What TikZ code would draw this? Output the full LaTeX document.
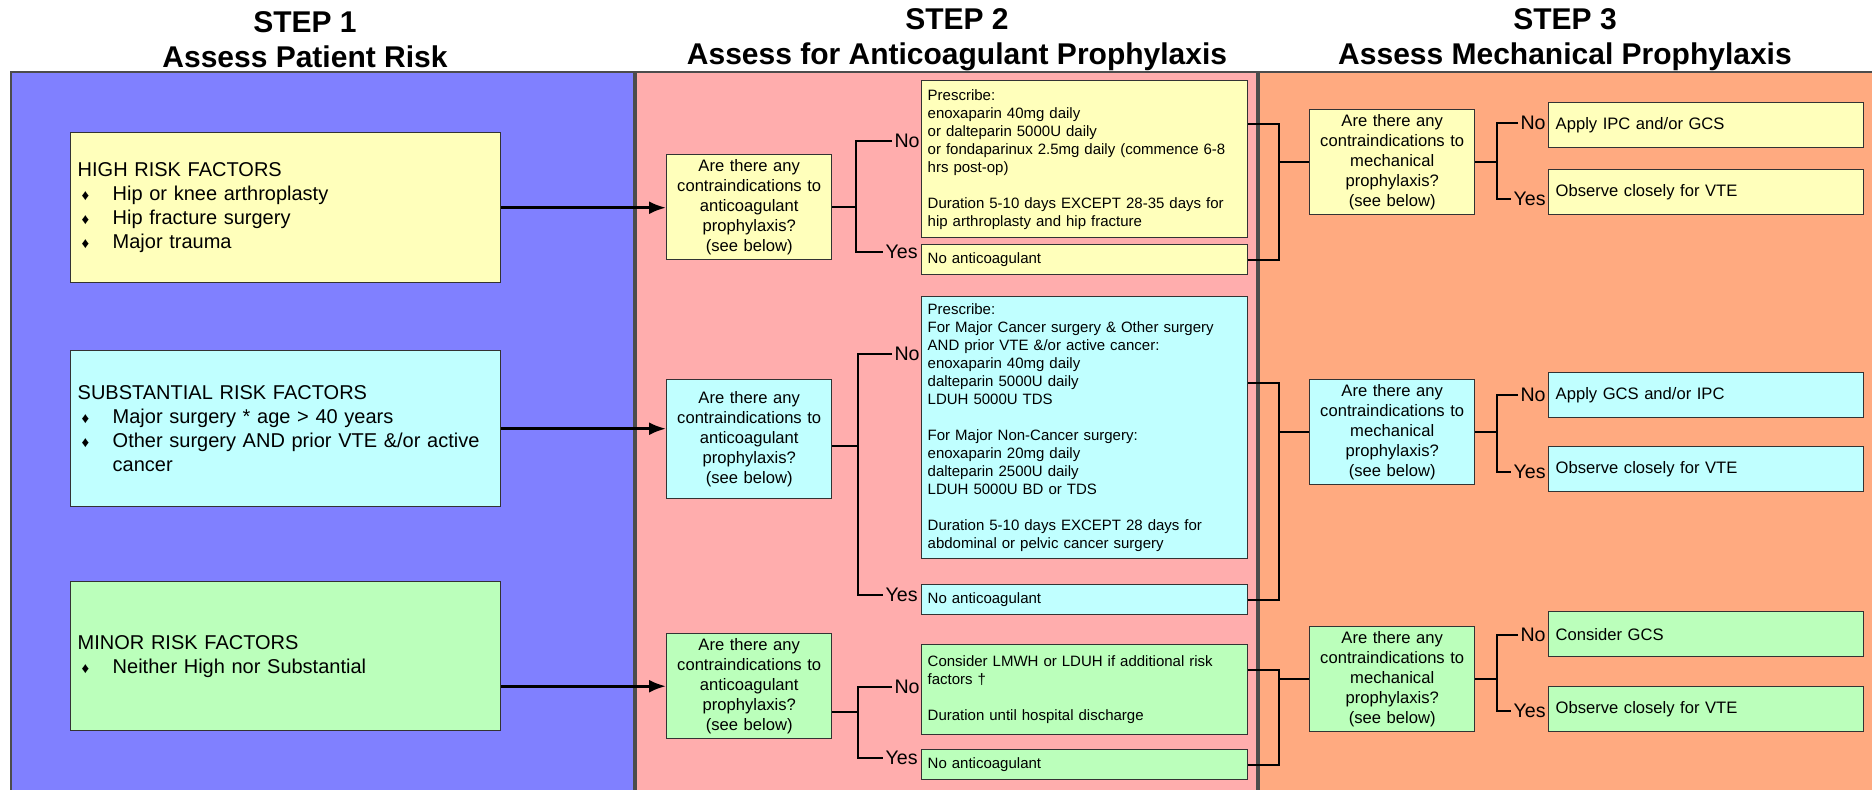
\documentclass[tikz,border=0pt]{standalone}
\usepackage{fontspec}
\setmainfont{Liberation Sans}
\usepackage{tikz}
\usetikzlibrary{positioning, arrows.meta, calc}

\definecolor{stepblue}{HTML}{8080FF}
\definecolor{steppink}{HTML}{FFADAD}
\definecolor{stepsalmon}{HTML}{FFAA80}
\definecolor{boxyellow}{HTML}{FFFFBB}
\definecolor{boxcyan}{HTML}{C0FFFF}
\definecolor{boxgreen}{HTML}{BBFFBB}

\newcommand{\rbul}{\makebox[17.5pt][l]{\hspace{2pt}{\fontsize{7.5}{7.5}\selectfont ♦}}}

\begin{document}
\begin{tikzpicture}[
    x=0.5pt, y=-0.5pt,
    panel/.style={draw=black!70, line width=0.75pt},
    box/.style={draw=black!80, line width=0.7pt, anchor=north west, inner ysep=0pt},
    yellowbox/.style={fill=boxyellow},
    cyanbox/.style={fill=boxcyan},
    greenbox/.style={fill=boxgreen},
    riskbox/.style={box, text width=208pt, inner xsep=3.5pt, align=left, font=\fontsize{10}{12}\selectfont},
    qbox/.style={box, text width=80.5pt, inner xsep=1pt, align=center, minimum height=52.5pt, font=\fontsize{8.3}{10}\selectfont},
    rxbox/.style={box, text width=157pt, inner xsep=3pt, align=left, font=\fontsize{7.5}{9}\selectfont},
    mechbox/.style={box, text width=150.5pt, inner xsep=3.5pt, align=left, minimum height=22.5pt, font=\fontsize{8.3}{10}\selectfont},
    title/.style={align=center, font=\fontsize{15}{17.5}\selectfont\bfseries},
    yn/.style={anchor=east, inner xsep=1pt, inner ysep=0pt, font=\fontsize{9.8}{11}\selectfont},
    arrow/.style={-{Latex[length=8.5pt,width=6.5pt]}, line width=1.4pt},
    link/.style={line width=1pt}
]
    \useasboundingbox (0,0) rectangle (1872,789);

    % step panels
    \draw[panel, fill=stepblue] (11,72) rectangle (634,795);
    \draw[panel, fill=steppink] (636,72) rectangle (1257,795);
    \draw[panel, fill=stepsalmon] (1259,72) rectangle (1880,795);

    \node[title] (title1) at (305,40) {STEP 1\\Assess Patient Risk};
    \node[title] (title2) at (957,40) {STEP 2\\Assess for Anticoagulant Prophylaxis};
    \node[title] (title3) at (1565,40) {STEP 3\\Assess Mechanical Prophylaxis};

    % step 1: risk groups
    \node[riskbox, yellowbox, minimum height=75pt] (hiRisk) at (70,132)
        {HIGH RISK FACTORS\\\rbul Hip or knee arthroplasty\\\rbul Hip fracture surgery\\\rbul Major trauma};
    \node[riskbox, cyanbox, minimum height=78pt] (subRisk) at (70,350)
        {SUBSTANTIAL RISK FACTORS\\\rbul Major surgery * age > 40 years\\\rbul Other surgery AND prior VTE \&/or active\\\hspace*{17.5pt}cancer};
    \node[riskbox, greenbox, minimum height=74.5pt] (minRisk) at (70,581)
        {MINOR RISK FACTORS\\\rbul Neither High nor Substantial};

    % step 2: anticoagulant
    \node[qbox, yellowbox] (antiQ1) at (666,154) {Are there any\\contraindications to\\anticoagulant\\prophylaxis?\\(see below)};
    \node[qbox, cyanbox, minimum height=59.5pt] (antiQ2) at (666,379) {Are there any\\contraindications to\\anticoagulant\\prophylaxis?\\(see below)};
    \node[qbox, greenbox] (antiQ3) at (666,633) {Are there any\\contraindications to\\anticoagulant\\prophylaxis?\\(see below)};

    \node[rxbox, yellowbox, minimum height=78.5pt] (rxHigh) at (921,80)
        {Prescribe:\\enoxaparin 40mg daily\\or dalteparin 5000U daily\\or fondaparinux 2.5mg daily (commence 6-8\\hrs post-op)\\[9pt]Duration 5-10 days EXCEPT 28-35 days for\\hip arthroplasty and hip fracture};
    \node[rxbox, yellowbox, minimum height=15pt] (noAcHigh) at (921,244) {No anticoagulant};
    \node[rxbox, cyanbox, minimum height=131pt] (rxSub) at (921,296)
        {Prescribe:\\For Major Cancer surgery \& Other surgery\\AND prior VTE \&/or active cancer:\\enoxaparin 40mg daily\\dalteparin 5000U daily\\LDUH 5000U TDS\\[9pt]For Major Non-Cancer surgery:\\enoxaparin 20mg daily\\dalteparin 2500U daily\\LDUH 5000U BD or TDS\\[9pt]Duration 5-10 days EXCEPT 28 days for\\abdominal or pelvic cancer surgery};
    \node[rxbox, cyanbox, minimum height=15pt] (noAcSub) at (921,584) {No anticoagulant};
    \node[rxbox, greenbox, minimum height=45pt] (rxMin) at (921,644)
        {Consider LMWH or LDUH if additional risk\\factors †\\[9pt]Duration until hospital discharge};
    \node[rxbox, greenbox, minimum height=15pt] (noAcMin) at (921,749) {No anticoagulant};

    \node[yn] (no1) at (922,141) {No};
    \node[yn] (yes1) at (920,252) {Yes};
    \node[yn] (no2) at (922,354) {No};
    \node[yn] (yes2) at (920,595) {Yes};
    \node[yn] (no3) at (922,687) {No};
    \node[yn] (yes3) at (920,758) {Yes};

    % step 3: mechanical
    \node[qbox, yellowbox] (mechQ1) at (1309,109) {Are there any\\contraindications to\\mechanical\\prophylaxis?\\(see below)};
    \node[qbox, cyanbox] (mechQ2) at (1309,379) {Are there any\\contraindications to\\mechanical\\prophylaxis?\\(see below)};
    \node[qbox, greenbox] (mechQ3) at (1309,626) {Are there any\\contraindications to\\mechanical\\prophylaxis?\\(see below)};

    \node[mechbox, yellowbox] (ipc1) at (1548,102) {Apply IPC and/or GCS};
    \node[mechbox, yellowbox] (obs1) at (1548,169) {Observe closely for VTE};
    \node[mechbox, cyanbox] (gcs2) at (1548,372) {Apply GCS and/or IPC};
    \node[mechbox, cyanbox] (obs2) at (1548,446) {Observe closely for VTE};
    \node[mechbox, greenbox] (gcs3) at (1548,611) {Consider GCS};
    \node[mechbox, greenbox] (obs3) at (1548,686) {Observe closely for VTE};

    \node[yn] (mno1) at (1548,123) {No};
    \node[yn] (myes1) at (1548,199) {Yes};
    \node[yn] (mno2) at (1548,395) {No};
    \node[yn] (myes2) at (1548,472) {Yes};
    \node[yn] (mno3) at (1548,635) {No};
    \node[yn] (myes3) at (1548,711) {Yes};

    % arrows into step 2
    \draw[arrow] (hiRisk.east) -- (antiQ1.west |- hiRisk.east);
    \draw[arrow] (subRisk.east) -- (antiQ2.west |- subRisk.east);
    \draw[arrow] (minRisk.east |- antiQ3.west) -- (antiQ3.west);

    % yes/no brackets
    \coordinate (j1) at ($(antiQ1.east)+(24,0)$);
    \coordinate (j2) at ($(antiQ2.north east)+(26,67)$);
    \coordinate (j3) at ($(antiQ3.north east)+(26,79)$);
    \draw[link] (antiQ1.east) -- (j1);
    \draw[link] (no1.west) -| (j1) |- (yes1.west);
    \draw[link] (antiQ2.east |- j2) -- (j2);
    \draw[link] (no2.west) -| (j2) |- (yes2.west);
    \draw[link] (antiQ3.east |- j3) -- (j3);
    \draw[link] (no3.west) -| (j3) |- (yes3.west);

    % step 2 outcomes join into step 3
    \coordinate (k1) at ($(mechQ1.west)+(-30,0)$);
    \coordinate (k2) at ($(mechQ2.west)+(-30,0)$);
    \coordinate (k3) at ($(mechQ3.west)+(-30,0)$);
    \draw[link] ($(rxHigh.north east)+(0,44)$) -| (k1) |- (noAcHigh.east);
    \draw[link] (k1) -- (mechQ1.west);
    \draw[link] ($(rxSub.north east)+(0,87)$) -| (k2) |- (noAcSub.east);
    \draw[link] (k2) -- (mechQ2.west);
    \draw[link] ($(rxMin.north east)+(0,26)$) -| (k3) |- (noAcMin.east);
    \draw[link] (k3) -- (mechQ3.west);

    \coordinate (m1) at ($(mechQ1.east)+(22,0)$);
    \coordinate (m2) at ($(mechQ2.east)+(22,0)$);
    \coordinate (m3) at ($(mechQ3.east)+(22,0)$);
    \draw[link] (mechQ1.east) -- (m1);
    \draw[link] (mno1.west) -| (m1) |- (myes1.west);
    \draw[link] (mechQ2.east) -- (m2);
    \draw[link] (mno2.west) -| (m2) |- (myes2.west);
    \draw[link] (mechQ3.east) -- (m3);
    \draw[link] (mno3.west) -| (m3) |- (myes3.west);
\end{tikzpicture}
\end{document}
